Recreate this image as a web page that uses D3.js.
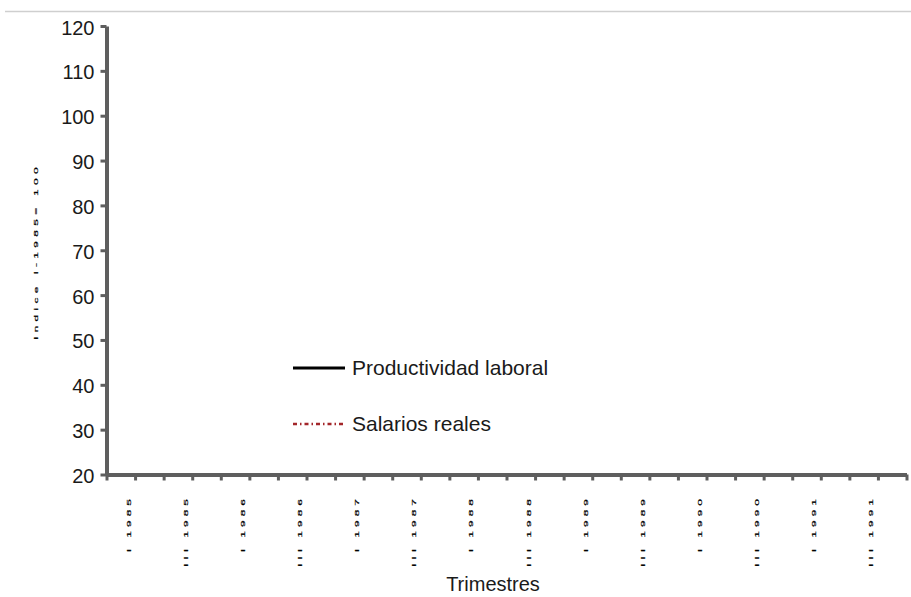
<!DOCTYPE html>
<html>
<head>
<meta charset="utf-8">
<script src="https://cdn.jsdelivr.net/npm/d3@7"></script>
<style>
  body { margin: 0; background: #fff; }
  text { font-family: "Liberation Sans", Arial, sans-serif; }
</style>
</head>
<body>
<div id="chart"></div>
<script>
// trimestres 1985-1991
var years = [1985, 1986, 1987, 1988, 1989, 1990, 1991];
var quarters = ["I", "II", "III", "IV"];
var categories = years.flatMap(y => quarters.map(q => q + " " + y));
var tickLabels = ["I 1985", "III 1985", "I 1986", "III 1986", "I 1987", "III 1987", "I 1988",
  "III 1988", "I 1989", "III 1989", "I 1990", "III 1990", "I 1991", "III 1991"];
var yTicks = [20, 30, 40, 50, 60, 70, 80, 90, 100, 110, 120];

// no se ven valores dibujados en el grafico
var seriesNames = ["Productividad laboral", "Salarios reales"];
var productividad = [];
var salarios = [];

const width = 911, height = 597;
const plotLeft = 106.5, plotRight = 906.5, plotTop = 26, plotBottom = 474.5;
const axisColor = "#5e5e5e";

const svg = d3.select("#chart").append("svg")
  .attr("width", width)
  .attr("height", height);

// linea gris superior
svg.append("line")
  .attr("x1", 5).attr("x2", width)
  .attr("y1", 11.5).attr("y2", 11.5)
  .attr("stroke", "#cfcfcf").attr("stroke-width", 1.5);

const y = d3.scaleLinear().domain([20, 120]).range([plotBottom, plotTop]);
const x = d3.scaleBand().domain(categories).range([plotLeft, plotRight]);
const xb = d3.scaleLinear().domain([0, categories.length]).range([plotLeft, plotRight]);

// eje Y
const gy = svg.append("g")
  .attr("transform", `translate(${plotLeft},0)`)
  .call(d3.axisLeft(y).tickValues(yTicks).tickSize(6).tickSizeOuter(0).tickPadding(6));
gy.select(".domain").attr("stroke", axisColor).attr("stroke-width", 4);
gy.selectAll(".tick line").attr("stroke", axisColor).attr("stroke-width", 3);
gy.selectAll(".tick text")
  .attr("font-size", 20).attr("fill", "#1a1a1a")
  .attr("dy", "0.4em")
  .attr("font-family", "Liberation Sans, Arial, sans-serif");

// eje X, marcas entre trimestres
const gx = svg.append("g")
  .attr("transform", `translate(0,${plotBottom})`)
  .call(d3.axisBottom(xb).tickValues(d3.range(categories.length + 1)).tickFormat("").tickSize(6).tickSizeOuter(0));
gx.select(".domain").attr("stroke", axisColor).attr("stroke-width", 4);
gx.selectAll(".tick line").attr("stroke", axisColor).attr("stroke-width", 3);

// etiquetas de trimestre, giradas y comprimidas
svg.append("g").selectAll("text")
  .data(tickLabels)
  .join("text")
  .attr("transform", d => `translate(${x(d) + 24},${495}) rotate(-90) scale(1,0.5)`)
  .attr("text-anchor", "end")
  .attr("font-size", 12)
  .attr("letter-spacing", 4)
  .attr("fill", "#000")
  .attr("stroke", "#000").attr("stroke-width", 0.4)
  .text(d => d);

// titulo eje Y
svg.append("text")
  .attr("transform", `translate(38,${(165 + 338) / 2}) rotate(-90) scale(1,0.5)`)
  .attr("text-anchor", "middle")
  .attr("font-size", 12)
  .attr("letter-spacing", 4.3)
  .attr("fill", "#000")
  .attr("stroke", "#000").attr("stroke-width", 0.4)
  .text("Indice I-1985= 100");

// titulo eje X
svg.append("text")
  .attr("x", 493).attr("y", 591)
  .attr("text-anchor", "middle")
  .attr("font-size", 20)
  .attr("fill", "#1a1a1a")
  .text("Trimestres");

// series (sin datos visibles)
const line = d3.line().x((d, i) => x(categories[i]) + x.bandwidth() / 2).y(d => y(d));
const series = [
  { name: seriesNames[0], values: productividad, color: "#000", dash: null, w: 3 },
  { name: seriesNames[1], values: salarios, color: "#a3262a", dash: "4,3,1.5,3", w: 2.5 }
];
svg.append("g").selectAll("path")
  .data(series)
  .join("path")
  .attr("fill", "none")
  .attr("stroke", d => d.color)
  .attr("stroke-width", d => d.w)
  .attr("stroke-dasharray", d => d.dash)
  .attr("d", d => line(d.values));

// leyenda
const lg = svg.append("g").selectAll("g")
  .data(series)
  .join("g")
  .attr("transform", (d, i) => `translate(293,${368 + i * 56})`);
lg.append("line")
  .attr("x1", 0).attr("x2", 52)
  .attr("stroke", d => d.color)
  .attr("stroke-width", d => d.w)
  .attr("stroke-dasharray", d => d.dash);
lg.append("text")
  .attr("x", 59).attr("y", 7)
  .attr("font-size", 21)
  .attr("fill", "#1a1a1a")
  .text(d => d.name);
</script>
</body>
</html>
